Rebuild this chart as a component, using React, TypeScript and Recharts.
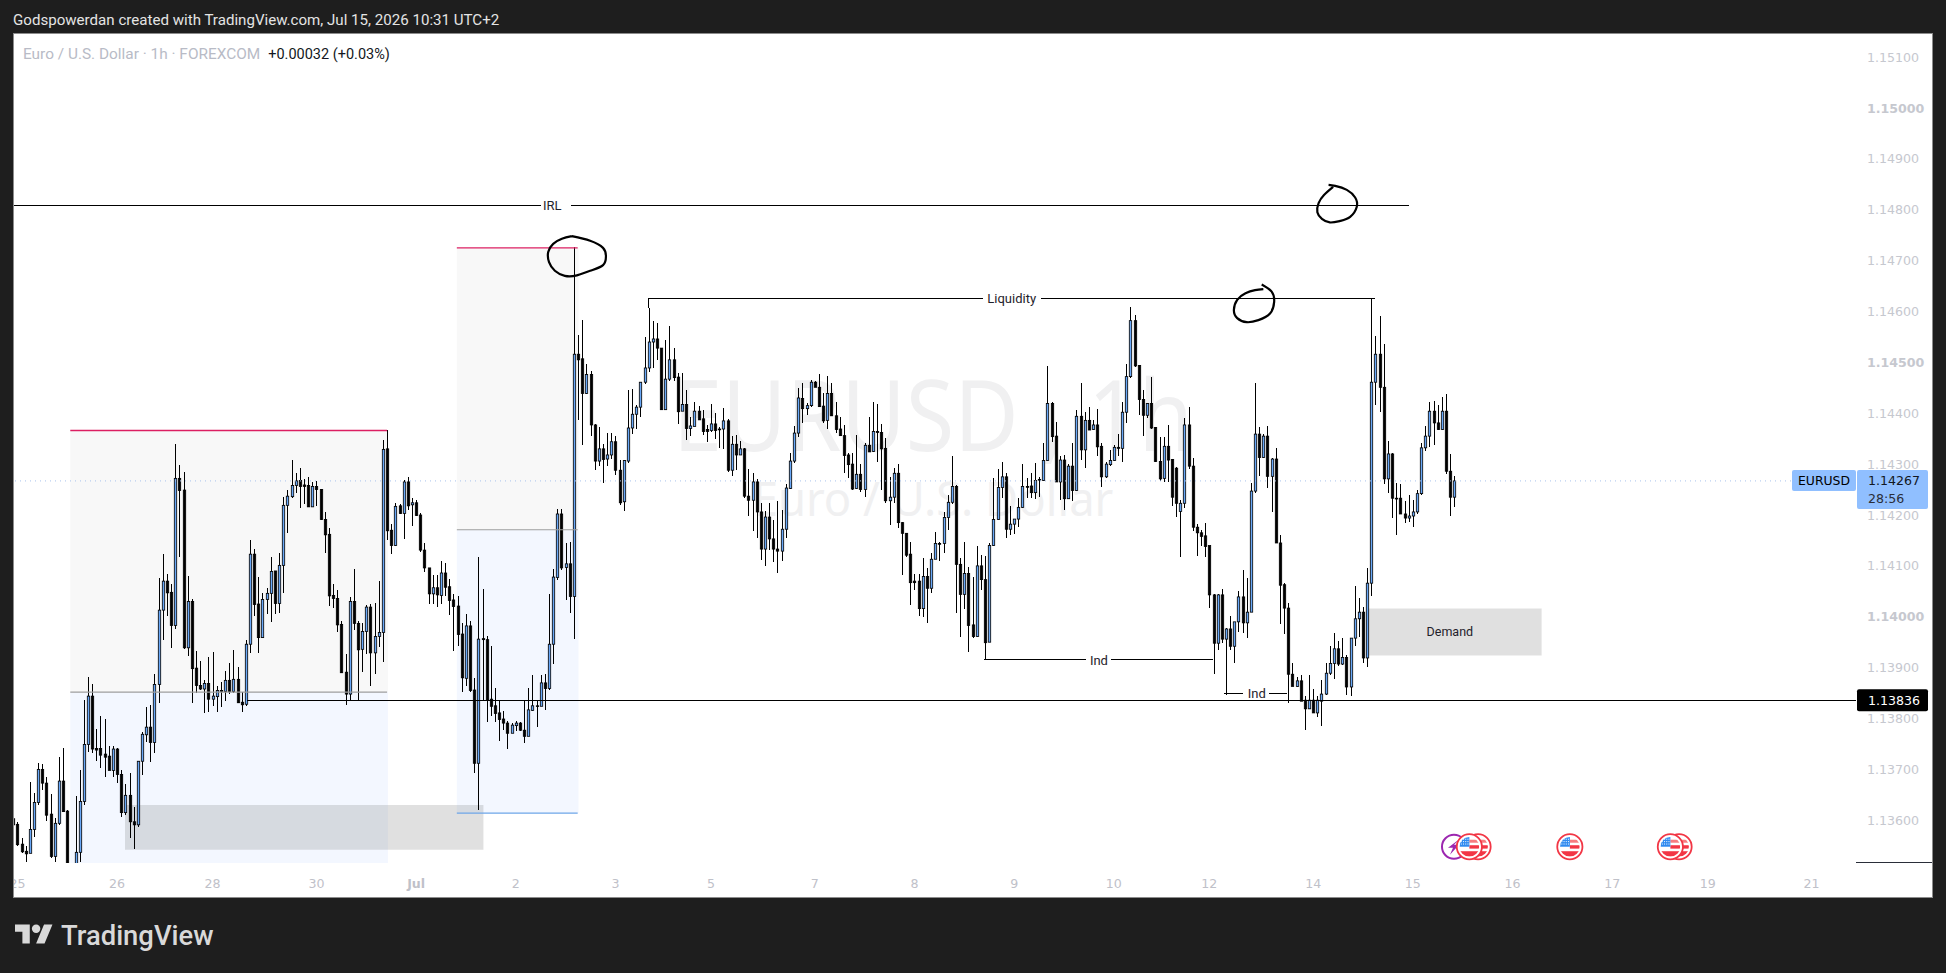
import React from 'react';
import {
  ComposedChart, Bar, Line, Scatter, XAxis, YAxis,
  ReferenceArea, ReferenceLine, ReferenceDot
} from 'recharts';

// 1h candles as [open, high, low, close], in points (price x 100000)
const candleRows: number[][] = [
  [113603,113632,113571,113591],[113592,113597,113550,113552],[113553,113565,113535,113538],[113539,113550,113517,113534],
  [113535,113675,113535,113582],[113582,113653,113568,113635],[113635,113713,113630,113700],[113700,113711,113660,113673],
  [113673,113686,113599,113610],[113612,113652,113525,113529],[113529,113604,113517,113594],[113594,113725,113590,113677],
  [113677,113742,113617,113617],[113618,113620,113486,113496],[113496,113500,113440,113450],[113450,113648,113440,113537],
  [113537,113699,113517,113637],[113637,113836,113630,113749],[113749,113882,113735,113844],[113844,113868,113733,113740],
  [113741,113779,113717,113738],[113741,113805,113702,113728],[113730,113800,113686,113724],[113726,113745,113698,113698],
  [113698,113746,113686,113740],[113740,113743,113674,113690],[113690,113699,113606,113615],[113615,113671,113610,113649],
  [113649,113692,113565,113597],[113597,113627,113544,113591],[113591,113717,113586,113716],[113716,113773,113688,113769],
  [113768,113823,113753,113783],[113783,113827,113715,113753],[113753,113887,113733,113867],[113867,114076,113831,114013],
  [114013,114123,113954,114070],[114070,114084,114002,114047],[114048,114064,113939,113983],[113983,114339,113976,114272],
  [114272,114298,114118,114248],[114249,114284,113937,113939],[113939,114080,113922,114030],[114030,114035,113831,113898],
  [113899,113933,113850,113865],[113865,113913,113856,113858],[113858,113876,113810,113869],[113869,113920,113813,113838],
  [113838,113931,113825,113844],[113843,113863,113813,113855],[113855,113871,113823,113854],[113853,113893,113835,113875],
  [113875,113910,113848,113853],[113853,113935,113850,113877],[113877,113901,113830,113831],[113832,113853,113812,113827],
  [113828,113954,113825,113946],[113946,114151,113928,114123],[114123,114133,114002,114024],[114025,114078,113928,113959],
  [113959,114046,113958,114034],[114034,114057,114005,114046],[114046,114118,113990,114089],[114090,114090,114005,114026],
  [114026,114126,114008,114101],[114101,114236,114047,114219],[114219,114250,114165,114237],[114236,114308,114234,114258],
  [114258,114283,114243,114267],[114268,114292,114214,114256],[114259,114270,114222,114256],[114258,114275,114216,114216],
  [114216,114265,114216,114256],[114256,114267,114218,114250],[114250,114252,114191,114191],[114191,114205,114126,114161],
  [114162,114174,114021,114041],[114042,114064,114018,114036],[114036,114053,113971,113984],[113985,113992,113890,113890],
  [113891,113927,113827,113848],[113848,114038,113835,114030],[114030,114093,113973,113987],[113987,113991,113835,113935],
  [113936,113987,113891,113971],[113971,114023,113926,114019],[114019,114026,113864,113929],[113929,114028,113888,113961],
  [113961,114070,113941,113969],[113969,114347,113912,114329],[114330,114367,114151,114169],[114170,114182,114124,114140],
  [114140,114223,114140,114217],[114218,114222,114202,114203],[114203,114269,114153,114265],[114265,114274,114210,114218],
  [114220,114234,114179,114224],[114224,114229,114199,114199],[114200,114204,114127,114131],[114131,114144,114087,114096],
  [114096,114096,114026,114045],[114045,114083,114026,114057],[114057,114083,114019,114043],[114042,114110,114026,114086],
  [114086,114106,114040,114058],[114059,114074,114004,114032],[114033,114045,113932,114020],[114021,114040,113942,113965],
  [113966,113988,113853,113880],[113879,114006,113863,113982],[113982,113991,113852,113855],[113856,113880,113692,113712],
  [113712,114118,113620,113956],[113957,114055,113834,113955],[113955,113963,113793,113836],[113838,113943,113804,113824],
  [113825,113860,113793,113810],[113811,113837,113755,113798],[113799,113815,113777,113791],[113791,113796,113741,113771],
  [113771,113791,113771,113787],[113786,113796,113775,113791],[113791,113793,113775,113777],[113777,113836,113751,113765],
  [113765,113860,113765,113817],[113816,113886,113814,113825],[113825,113837,113783,113824],[113824,113886,113824,113870],
  [113870,113888,113816,113859],[113859,114045,113857,113946],[113946,114094,113907,114078],[114077,114212,114072,114202],
  [114202,114212,114091,114096],[114097,114145,114032,114104],[114104,114147,114007,114040],[114040,114727,113956,114516],
  [114516,114554,114386,114505],[114507,114584,114338,114439],[114439,114497,114438,114476],[114476,114483,114355,114377],
  [114377,114378,114289,114306],[114306,114372,114296,114330],[114330,114340,114262,114309],[114310,114361,114296,114318],
  [114318,114362,114310,114344],[114344,114355,114279,114288],[114288,114309,114220,114224],[114226,114309,114207,114307],
  [114306,114446,114302,114371],[114371,114448,114360,114398],[114398,114417,114370,114412],[114412,114461,114392,114461],
  [114461,114550,114457,114489],[114489,114607,114482,114540],[114540,114582,114489,114546],[114546,114577,114504,114528],
  [114528,114528,114406,114407],[114407,114544,114406,114467],[114467,114572,114463,114505],[114505,114528,114463,114470],
  [114471,114479,114379,114403],[114404,114479,114404,114417],[114417,114446,114348,114370],[114370,114393,114355,114375],
  [114374,114422,114374,114404],[114404,114415,114387,114387],[114389,114407,114358,114364],[114368,114377,114343,114364],
  [114366,114419,114364,114379],[114379,114400,114349,114366],[114369,114372,114332,114368],[114369,114410,114330,114385],
  [114385,114389,114285,114288],[114288,114355,114276,114339],[114339,114358,114289,114318],[114318,114345,114317,114330],
  [114330,114332,114233,114237],[114237,114290,114199,114229],[114229,114282,114168,114265],[114265,114271,114155,114206],
  [114206,114224,114111,114133],[114133,114207,114099,114196],[114196,114224,114132,114153],[114153,114191,114108,114133],
  [114133,114227,114086,114129],[114129,114210,114110,114172],[114172,114261,114155,114253],[114252,114322,114251,114306],
  [114306,114374,114303,114361],[114361,114450,114353,114430],[114429,114459,114380,114409],[114409,114421,114397,114415],
  [114415,114465,114413,114461],[114461,114464,114451,114451],[114451,114478,114413,114413],[114414,114439,114381,114385],
  [114386,114473,114370,114439],[114439,114459,114394,114395],[114395,114423,114362,114368],[114369,114393,114356,114356],
  [114356,114377,114283,114317],[114318,114321,114272,114299],[114300,114321,114249,114251],[114252,114358,114251,114280],
  [114280,114301,114246,114250],[114250,114341,114235,114337],[114337,114392,114324,114324],[114325,114423,114324,114364],
  [114364,114419,114305,114362],[114362,114378,114249,114330],[114331,114351,114223,114228],[114228,114275,114180,114235],
  [114235,114292,114223,114282],[114282,114300,114174,114185],[114185,114187,114082,114164],[114164,114164,114118,114121],
  [114123,114147,114023,114067],[114070,114085,114052,114067],[114070,114085,114001,114016],[114016,114115,113999,114079],
  [114079,114095,113988,114056],[114056,114125,114047,114113],[114113,114166,114113,114144],[114144,114146,114110,114143],
  [114144,114206,114125,114195],[114195,114239,114170,114225],[114225,114316,114221,114256],[114256,114259,114008,114103],
  [114103,114115,113961,114044],[114044,114147,114015,114085],[114085,114097,113931,113983],[113984,114079,113958,113961],
  [113961,114139,113961,114100],[114100,114121,114052,114073],[114073,114119,113916,113949],[113950,114144,113950,114140],
  [114140,114272,114140,114191],[114191,114290,114190,114254],[114254,114305,114233,114275],[114275,114282,114154,114172],
  [114172,114218,114161,114182],[114182,114192,114163,114192],[114192,114233,114177,114215],[114215,114301,114213,114256],
  [114256,114272,114233,114255],[114257,114282,114233,114244],[114244,114303,114231,114268],[114269,114275,114235,114270],
  [114268,114341,114267,114307],[114307,114493,114306,114419],[114419,114423,114344,114354],[114355,114383,114265,114265],
  [114265,114315,114229,114308],[114308,114318,114210,114232],[114232,114301,114231,114296],[114296,114341,114228,114248],
  [114248,114406,114247,114394],[114394,114459,114308,114328],[114328,114403,114293,114386],[114386,114413,114367,114367],
  [114368,114387,114367,114377],[114377,114408,114315,114334],[114335,114341,114256,114275],[114275,114305,114272,114300],
  [114299,114328,114297,114307],[114307,114337,114306,114333],[114333,114360,114315,114331],[114331,114422,114305,114402],
  [114402,114497,114381,114472],[114472,114608,114470,114582],[114582,114593,114490,114493],[114494,114495,114396,114427],
  [114427,114445,114356,114396],[114396,114421,114390,114419],[114419,114472,114370,114371],[114372,114372,114304,114305],
  [114305,114354,114267,114271],[114272,114354,114265,114335],[114335,114377,114265,114308],[114309,114311,114218,114235],
  [114292,114295,114197,114223],[114207,114229,114118,114223],[114223,114390,114213,114377],[114377,114413,114290,114296],
  [114296,114312,114168,114176],[114176,114183,114119,114165],[114165,114170,114140,114158],[114159,114184,114117,114138],
  [114140,114140,114017,114043],[114043,114044,113887,113948],[113948,114044,113934,114043],[114043,114055,113948,113956],
  [113956,113977,113846,113976],[113976,114001,113935,113942],[113942,113990,113909,113990],[113990,114050,113971,114039],
  [114039,114092,113969,113988],[113988,114077,113958,114009],[114009,114263,114009,114247],[114247,114459,114243,114359],
  [114359,114373,114276,114313],[114313,114360,114312,114355],[114355,114374,114253,114276],[114276,114312,114206,114310],
  [114310,114332,114145,114145],[114145,114161,113986,114062],[114063,114066,113967,114017],[114017,114027,113830,113887],
  [113887,113909,113863,113863],[113863,113882,113862,113874],[113874,113885,113834,113834],[113836,113844,113777,113819],
  [113819,113886,113819,113836],[113836,113858,113811,113811],[113811,113844,113803,113836],[113834,113876,113785,113848],
  [113848,113909,113847,113889],[113889,113942,113886,113908],[113908,113968,113878,113937],[113937,113952,113903,113907],
  [113907,113958,113906,113920],[113920,113924,113847,113862],[113862,113959,113844,113958],[113958,114061,113942,113996],
  [113996,114037,113961,114009],[114009,114020,113910,113919],[113919,114096,113901,114066],[114066,114626,114040,114461],
  [114461,114552,114417,114516],[114516,114592,114402,114451],[114451,114537,114260,114271],[114271,114345,114243,114320],
  [114320,114321,114194,114233],[114233,114263,114161,114232],[114233,114261,114201,114202],[114202,114227,114184,114194],
  [114194,114240,114186,114198],[114198,114230,114176,114206],[114206,114250,114202,114242],[114242,114341,114240,114332],
  [114332,114375,114325,114355],[114355,114423,114333,114404],[114404,114425,114337,114381],[114381,114417,114367,114368],
  [114368,114432,114367,114404],[114404,114438,114281,114286],[114286,114320,114199,114235],[114235,114277,114215,114267],
];

const priceTicks = [1.136, 1.137, 1.138, 1.139, 1.14, 1.141, 1.142, 1.143, 1.144, 1.145, 1.146, 1.147, 1.148, 1.149, 1.15, 1.151];
const dayTicks = [1, 25, 48, 73, 97, 121, 145, 168, 193, 217, 241, 265, 288, 313, 337, 361, 385, 408, 433];
const dayLabels = ['25', '26', '28', '30', 'Jul', '2', '3', '5', '7', '8', '9', '10', '12', '14', '15', '16', '17', '19', '21'];

const LAST_PRICE = 1.14267;
const LEVEL_PRICE = 1.13836;
const IRL_PRICE = 1.14808;
const LIQUIDITY_PRICE = 1.14626;
const IND_A_PRICE = 1.13915;
const IND_B_PRICE = 1.1385;
const MARKER_PRICE = 1.13548;

const X_MIN = 0.17;
const X_MAX = 443.7;
const Y_MIN = 1.13516;
const Y_MAX = 1.151454;

// hand drawn loops on the chart, [bar, points]
const loopTop = [[134.5,114748],[138.9,114739],[142,114725],[142.7,114709],[142,114691],[138.9,114680],[135.7,114671],[132.8,114670],[130.4,114680],[129,114697],[128.8,114717],[130,114733],[132.1,114743],[134.5,114748]];
const loopIrl = [[316.7,114849],[318.3,114847],[321.1,114839],[323.1,114824],[323.5,114806],[321.9,114786],[319.5,114778],[317,114775],[315.1,114782],[314,114795],[314.3,114813],[315.6,114829],[317.8,114845]];
const loopLiq = [[300.6,114653],[303,114639],[303.6,114619],[302.6,114596],[299.8,114583],[297,114579],[294.7,114587],[293.9,114603],[294.7,114623],[296.7,114636],[299,114642],[301,114644]];

const markerBars = [
  { idx: 346.9, kind: 'bolt' },
  { idx: 352.7, kind: 'flag' },
  { idx: 350.6, kind: 'flag' },
  { idx: 374.8, kind: 'flag' },
  { idx: 401.1, kind: 'flag' },
  { idx: 399, kind: 'flag' },
];

const toPrice = (pts: number) => pts / 100000;

const candles = candleRows.map(([o, h, l, c], idx) => ({
  idx,
  open: toPrice(o),
  high: toPrice(h),
  low: toPrice(l),
  close: toPrice(c),
  range: [toPrice(l), toPrice(h)],
}));

const toLoop = (rows: number[][]) => rows.map(([idx, pts]) => ({ idx, price: toPrice(pts) }));
const markers = markerBars.map((m) => ({ ...m, price: MARKER_PRICE }));

const AXIS_FONT = '"DejaVu Sans", sans-serif';
const UI_FONT = 'Roboto, sans-serif';
const BLUE = '#69a8f8';

function Candle(props: any) {
  const { x, y, width, height, payload } = props;
  const { open, high, low, close } = payload;
  const toY = (v: number) => y + ((high - v) / (high - low)) * height;
  const cx = Math.round(x + width / 2) + 0.5;
  const up = close >= open;
  const top = toY(Math.max(open, close));
  const bottom = toY(Math.min(open, close));
  return (
    <g>
      <line x1={cx} x2={cx} y1={y} y2={y + height} stroke="#000" shapeRendering="crispEdges" />
      <rect
        x={cx - 1.2}
        y={top}
        width={2.4}
        height={Math.max(bottom - top, 0.8)}
        fill={up ? BLUE : '#000'}
        stroke="#000"
        strokeWidth={0.8}
      />
    </g>
  );
}

// keeps thin annotation lines on a whole pixel
function CrispLine(props: any) {
  const { x1, y1, x2, y2, stroke } = props;
  const flat = Math.abs(y1 - y2) < 0.01;
  return (
    <line
      x1={flat ? x1 : Math.floor(x1) + 0.5}
      x2={flat ? x2 : Math.floor(x2) + 0.5}
      y1={flat ? Math.floor(y1) + 0.5 : y1}
      y2={flat ? Math.floor(y2) + 0.5 : y2}
      stroke={stroke}
      shapeRendering="crispEdges"
    />
  );
}

function PriceTick(props: any) {
  const { x, y, payload } = props;
  const major = Math.round(payload.value * 100000) % 500 === 0;
  return (
    <text
      x={x}
      y={y}
      dy="0.36em"
      fontFamily={AXIS_FONT}
      fontSize={12.6}
      fontWeight={major ? 700 : 400}
      fill="#c6c8cf"
    >
      {payload.value.toFixed(5)}
    </text>
  );
}

function DayTick(props: any) {
  const { x, y, payload } = props;
  const label = dayLabels[dayTicks.indexOf(payload.value)];
  return (
    <text
      x={x}
      y={y}
      dy="0.36em"
      textAnchor="middle"
      fontFamily={AXIS_FONT}
      fontSize={12.6}
      fontWeight={label === 'Jul' ? 700 : 400}
      fill="#bfc1c9"
    >
      {label}
    </text>
  );
}

function Marker(props: any) {
  const { cx, cy, payload, index } = props;
  if (payload.kind === 'bolt') {
    return (
      <g>
        <circle cx={cx} cy={cy} r={12} fill="#fff" stroke="#9c27b0" strokeWidth={2} />
        <path
          d={`M${cx + 6} ${cy - 8} L${cx - 6} ${cy + 1} L${cx - 1} ${cy + 1} L${cx - 4} ${cy + 8} L${cx + 5} ${cy - 2} L${cx} ${cy - 2} Z`}
          fill="#9c27b0"
        />
      </g>
    );
  }
  const clipId = `flag-${index}`;
  const stars = [];
  for (let r = 0; r < 3; r++) {
    for (let c = 0; c < 4; c++) {
      stars.push(<rect key={`${r}-${c}`} x={cx - 8.5 + c * 2.2} y={cy - 8 + r * 2.4} width={1} height={1} fill="#fff" />);
    }
  }
  return (
    <g>
      <circle cx={cx} cy={cy} r={12.6} fill="#fff" stroke="#f23645" strokeWidth={1.8} />
      <clipPath id={clipId}>
        <circle cx={cx} cy={cy} r={9.8} />
      </clipPath>
      <g clipPath={`url(#${clipId})`}>
        <rect x={cx - 10} y={cy - 10} width={20} height={20} fill="#fff" />
        <rect x={cx} y={cy - 7} width={10} height={3} fill="#f77c80" />
        <rect x={cx} y={cy - 1.5} width={10} height={3.4} fill="#f23645" />
        <rect x={cx - 10} y={cy + 4.5} width={20} height={5.5} fill="#f23645" />
        <rect x={cx - 10} y={cy - 10} width={10} height={10} fill="#2f8af0" />
        {stars}
      </g>
    </g>
  );
}

function PriceTag(props: any) {
  const { cx, cy, bg, text, sub, color } = props;
  return (
    <g>
      <rect x={cx + 1} y={cy - 11} width={71} height={sub ? 39 : 22} rx={2} fill={bg} />
      <text x={cx + 12} y={cy} dy="0.36em" fontFamily={AXIS_FONT} fontSize={12.6} fill={color}>{text}</text>
      {sub ? <text x={cx + 12} y={cy + 18} dy="0.36em" fontFamily={AXIS_FONT} fontSize={12.6} fill="#2a2e39">{sub}</text> : null}
    </g>
  );
}

function SymbolTag(props: any) {
  const { cx, cy } = props;
  return (
    <g>
      <rect x={cx - 64} y={cy - 11} width={64} height={21} rx={2} fill="#90bfff" />
      <text x={cx - 32} y={cy} dy="0.36em" textAnchor="middle" fontFamily={AXIS_FONT} fontSize={12.4} fill="#000">EURUSD</text>
    </g>
  );
}

const noteLabel = (value: string, fontSize = 13) => ({
  value,
  position: 'center' as const,
  fontFamily: UI_FONT,
  fontSize,
  fill: '#1f222b',
});

export default function App() {
  return (
    <div style={{ position: 'fixed', left: 0, top: 0, width: 1946, height: 973, background: '#1e1e1e', overflow: 'hidden' }}>
      <div style={{ position: 'absolute', left: 13, top: 11, color: '#e4e4e4', fontFamily: UI_FONT, fontSize: 15.1, lineHeight: '18px', whiteSpace: 'nowrap' }}>
        Godspowerdan created with TradingView.com, Jul 15, 2026 10:31 UTC+2
      </div>

      <div style={{ position: 'absolute', left: 14, top: 34, width: 1918, height: 863, background: '#fff', boxShadow: '0 0 0 1px #8c8c8c', overflow: 'hidden' }}>
        <div style={{ position: 'absolute', left: 919, top: 340, transform: 'translateX(-50%) scaleX(0.9)', fontFamily: '"Noto Sans", sans-serif', fontSize: 98, lineHeight: '78px', color: '#f0f0f1', whiteSpace: 'nowrap' }}>
          EURUSD , 1h
        </div>
        <div style={{ position: 'absolute', left: 919, top: 446, transform: 'translateX(-50%) scaleX(0.966)', fontFamily: '"Noto Sans", sans-serif', fontSize: 47, lineHeight: '36px', color: '#f0f0f1', whiteSpace: 'nowrap' }}>
          Euro / U.S. Dollar
        </div>
        <div style={{ position: 'absolute', left: 9, top: 11, fontFamily: UI_FONT, fontSize: 15.4, lineHeight: '18px', whiteSpace: 'nowrap', color: '#b8bbc6' }}>
          Euro / U.S. Dollar · 1h · FOREXCOM
          <span style={{ color: '#131722', marginLeft: 8, fontSize: 14.5 }}>+0.00032 (+0.03%)</span>
        </div>

        <div style={{ position: 'absolute', left: 0, top: 0 }}>
          <ComposedChart width={1918} height={863} data={candles} margin={{ top: 0, right: 0, bottom: 0, left: 0 }}>
            <XAxis
              dataKey="idx"
              type="number"
              domain={[X_MIN, X_MAX]}
              allowDataOverflow
              ticks={dayTicks}
              interval={0}
              height={34}
              tickLine={false}
              axisLine={false}
              tickMargin={14}
              tick={<DayTick />}
            />
            <YAxis
              orientation="right"
              type="number"
              domain={[Y_MIN, Y_MAX]}
              allowDataOverflow
              ticks={priceTicks}
              interval={0}
              width={76}
              tickLine={false}
              axisLine={false}
              tickMargin={5}
              tick={<PriceTick />}
            />

            {/* range boxes */}
            <ReferenceArea x1={13.72} x2={90.2} y1={1.13852} y2={1.14366} fill="#f8f8f8" fillOpacity={1} stroke="none" />
            <ReferenceArea x1={13.72} x2={90.2} y1={Y_MIN} y2={1.13852} fill="#f3f7ff" fillOpacity={1} stroke="none" />
            <ReferenceArea x1={106.8} x2={136.1} y1={1.14171} y2={1.14725} fill="#f8f8f8" fillOpacity={1} stroke="none" />
            <ReferenceArea x1={106.8} x2={136.1} y1={1.13614} y2={1.14171} fill="#f3f7ff" fillOpacity={1} stroke="none" />

            <ReferenceLine segment={[{ x: 13.72, y: 1.14366 }, { x: 90, y: 1.14366 }]} stroke="#dc1f62" strokeWidth={1.4} />
            <ReferenceLine segment={[{ x: 13.72, y: 1.13852 }, { x: 90, y: 1.13852 }]} stroke="#9e9e9e" strokeWidth={1.2} />
            <ReferenceLine segment={[{ x: 106.8, y: 1.14725 }, { x: 135.9, y: 1.14725 }]} stroke="#dc1f62" strokeWidth={1.2} />
            <ReferenceLine segment={[{ x: 106.8, y: 1.14171 }, { x: 135.9, y: 1.14171 }]} stroke="#9e9e9e" strokeWidth={1.2} />
            <ReferenceLine segment={[{ x: 106.8, y: 1.13614 }, { x: 135.9, y: 1.13614 }]} stroke="#6ea6e8" strokeWidth={1.2} />

            <ReferenceArea x1={26.9} x2={113.2} y1={1.13542} y2={1.1363} fill="#787878" fillOpacity={0.23} stroke="none" />
            <ReferenceArea x1={325.7} x2={368} y1={1.13924} y2={1.14016} fill="#787878" fillOpacity={0.23} stroke="none" />

            {/* last price and levels */}
            <ReferenceLine y={LAST_PRICE} stroke="#a8c3ec" strokeDasharray="1 4" />
            <ReferenceLine segment={[{ x: 56.2, y: LEVEL_PRICE }, { x: X_MAX, y: LEVEL_PRICE }]} stroke="#000" shape={CrispLine} />

            <ReferenceLine segment={[{ x: X_MIN, y: IRL_PRICE }, { x: 127, y: IRL_PRICE }]} stroke="#000" shape={CrispLine} />
            <ReferenceLine segment={[{ x: 134.2, y: IRL_PRICE }, { x: 336, y: IRL_PRICE }]} stroke="#000" shape={CrispLine} />
            <ReferenceDot x={129.8} y={IRL_PRICE} r={0} stroke="none" label={noteLabel('IRL')} />

            <ReferenceLine segment={[{ x: 153, y: LIQUIDITY_PRICE }, { x: 233.5, y: LIQUIDITY_PRICE }]} stroke="#000" shape={CrispLine} />
            <ReferenceLine segment={[{ x: 247.4, y: LIQUIDITY_PRICE }, { x: 328, y: LIQUIDITY_PRICE }]} stroke="#000" shape={CrispLine} />
            <ReferenceLine segment={[{ x: 153, y: LIQUIDITY_PRICE }, { x: 153, y: 1.14607 }]} stroke="#000" shape={CrispLine} />
            <ReferenceDot x={240.4} y={LIQUIDITY_PRICE} r={0} stroke="none" label={noteLabel('Liquidity')} />

            <ReferenceLine segment={[{ x: 233.8, y: IND_A_PRICE }, { x: 258.2, y: IND_A_PRICE }]} stroke="#000" shape={CrispLine} />
            <ReferenceLine segment={[{ x: 264.2, y: IND_A_PRICE }, { x: 288.9, y: IND_A_PRICE }]} stroke="#000" shape={CrispLine} />
            <ReferenceDot x={261.4} y={IND_A_PRICE} r={0} stroke="none" label={noteLabel('Ind')} />

            <ReferenceLine segment={[{ x: 291.6, y: IND_B_PRICE }, { x: 296.2, y: IND_B_PRICE }]} stroke="#000" shape={CrispLine} />
            <ReferenceLine segment={[{ x: 302.4, y: IND_B_PRICE }, { x: 306.8, y: IND_B_PRICE }]} stroke="#000" shape={CrispLine} />
            <ReferenceDot x={299.4} y={IND_B_PRICE} r={0} stroke="none" label={noteLabel('Ind')} />

            <ReferenceDot x={345.9} y={1.1397} r={0} stroke="none" label={noteLabel('Demand', 12.5)} />

            <Bar dataKey="range" barSize={3} shape={<Candle />} isAnimationActive={false} />

            <Line data={toLoop(loopTop)} dataKey="price" type="natural" dot={false} stroke="#000" strokeWidth={2.2} isAnimationActive={false} />
            <Line data={toLoop(loopIrl)} dataKey="price" type="natural" dot={false} stroke="#000" strokeWidth={2.2} isAnimationActive={false} />
            <Line data={toLoop(loopLiq)} dataKey="price" type="natural" dot={false} stroke="#000" strokeWidth={2.2} isAnimationActive={false} />

            <Scatter data={markers} dataKey="price" shape={<Marker />} isAnimationActive={false} />

            <ReferenceDot x={X_MAX} y={LAST_PRICE} r={0} ifOverflow="visible" shape={<PriceTag bg="#90bfff" color="#131722" text="1.14267" sub="28:56" />} />
            <ReferenceDot x={X_MAX} y={LAST_PRICE} r={0} ifOverflow="visible" shape={<SymbolTag />} />
            <ReferenceDot x={X_MAX} y={LEVEL_PRICE} r={0} ifOverflow="visible" shape={<PriceTag bg="#000" color="#fff" text="1.13836" />} />
          </ComposedChart>
        </div>

        <div style={{ position: 'absolute', left: 1842, top: 828, width: 76, height: 1, background: '#2a2e39' }} />
      </div>

      <svg style={{ position: 'absolute', left: 15, top: 923 }} width={38} height={24} viewBox="0 4 36 20">
        <path fill="#d9d9d9" d="M14 22H7V11H0V4h14v18zM28 22h-8l7.5-18h8L28 22z" />
        <circle fill="#d9d9d9" cx="20" cy="8" r="4" />
      </svg>
      <div style={{ position: 'absolute', left: 61, top: 918, color: '#d9d9d9', fontFamily: UI_FONT, fontWeight: 500, fontSize: 27.4, lineHeight: '36px', whiteSpace: 'nowrap' }}>
        TradingView
      </div>
    </div>
  );
}
